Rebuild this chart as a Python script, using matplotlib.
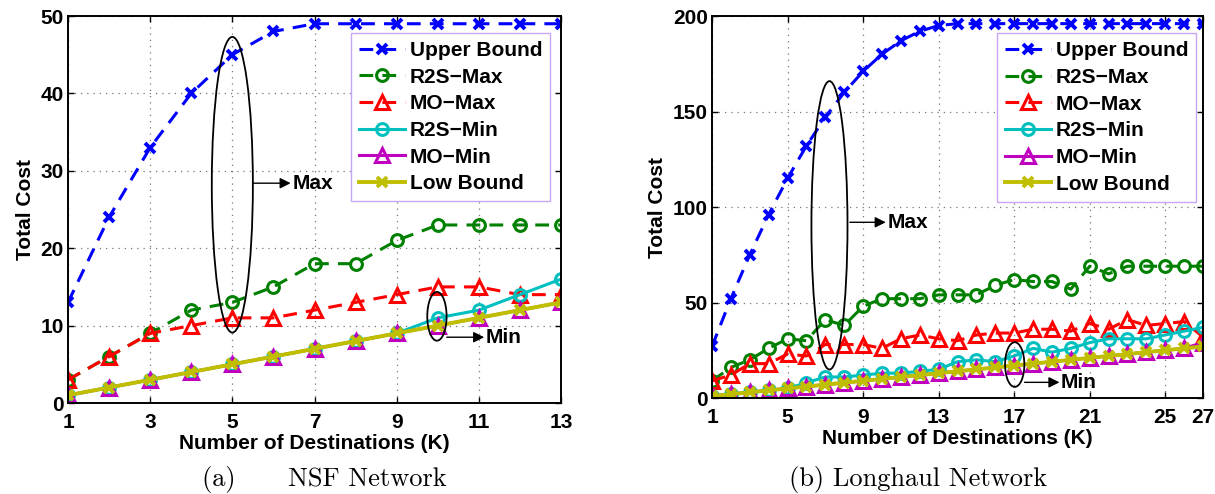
import numpy as np
import matplotlib
matplotlib.use("Agg")
import matplotlib.pyplot as plt
from matplotlib.patches import Ellipse

plt.rcParams['font.family'] = ['Liberation Sans', 'DejaVu Sans']
plt.rcParams['font.weight'] = 'bold'

# ---- data: (a) NSF network ----
k_nsf = list(range(1, 14))
upper_nsf = [13, 24, 33, 40, 45, 48, 49, 49, 49, 49, 49, 49, 49]
r2s_max_nsf = [3, 6, 9, 12, 13, 15, 18, 18, 21, 23, 23, 23, 23]
mo_max_nsf = [3, 6, 9, 10, 11, 11, 12, 13, 14, 15, 15, 14, 14]
r2s_min_nsf = [1, 2, 3, 4, 5, 6, 7, 8, 9, 11, 12, 14, 16]
mo_min_nsf = [1, 2, 3, 4, 5, 6, 7, 8, 9, 10, 11, 12, 13]
low_nsf = [1, 2, 3, 4, 5, 6, 7, 8, 9, 10, 11, 12, 13]

# ---- data: (b) Longhaul network ----
k_lh = list(range(1, 28))
upper_lh = [27, 52, 75, 96, 115, 132, 147, 160, 171, 180, 187, 192, 195,
            196, 196, 196, 196, 196, 196, 196, 196, 196, 196, 196, 196, 196, 196]
r2s_max_lh = [9, 16, 20, 26, 31, 30, 41, 38, 48, 52, 52, 52, 54, 54,
              54, 59, 62, 61, 61, 57, 69, 65, 69, 69, 69, 69, 69]
mo_max_lh = [9, 12, 18, 18, 23, 22, 28, 28, 28, 26, 31, 33, 31, 30,
             33, 34, 34, 36, 36, 35, 39, 36, 41, 38, 39, 40, 32]
r2s_min_lh = [1, 2, 3, 4, 5, 8, 11, 11, 12, 13, 13, 14, 15, 19,
              20, 19, 22, 26, 24, 26, 29, 31, 31, 31, 33, 35, 37]
mo_min_lh = [1, 2, 3, 4, 5, 6, 7, 8, 9, 10, 11, 12, 13, 14,
             15, 16, 17, 18, 19, 20, 21, 22, 23, 24, 25, 26, 29]
low_lh = list(range(1, 28))

labels = ["Upper Bound", "R2S\u2212Max", "MO\u2212Max", "R2S\u2212Min", "MO\u2212Min", "Low Bound"]

FS = 15


def draw(ax, k, series):
    up, r2max, momax, r2min, momin, low = series
    d = dict(linewidth=2.2, dashes=(4.5, 3))
    ax.plot(k, up, color='#0000ff', marker='x', ms=7, mew=2.8, label=labels[0], **d)
    ax.plot(k, r2max, color='#008000', marker='o', ms=8.5, mew=2.2, mfc='none', label=labels[1], **d)
    ax.plot(k, momax, color='#ff0000', marker='^', ms=9.5, mew=2.2, mfc='none', label=labels[2], **d)
    ax.plot(k, r2min, color='#00bfbf', marker='o', ms=8.5, mew=2.2, mfc='none', lw=2.2, label=labels[3])
    ax.plot(k, momin, color='#bf00bf', marker='^', ms=9.5, mew=2.2, mfc='none', lw=2.2, label=labels[4])
    ax.plot(k, low, color='#bfbf00', marker='x', ms=7, mew=2.8, lw=2.8, label=labels[5])


def style(ax, xticks, ylim, yticks, leg_anchor):
    ax.set_xlim(xticks[0], xticks[-1])
    ax.set_ylim(*ylim)
    ax.set_xticks(xticks)
    ax.set_yticks(yticks)
    ax.tick_params(direction='in', top=True, right=True, labelsize=15, length=4, width=1)
    ax.tick_params(axis='x', pad=7)
    ax.tick_params(axis='y', pad=3)
    for lbl in ax.get_xticklabels() + ax.get_yticklabels():
        lbl.set_fontweight('bold')
    ax.grid(True, color='#777777', linewidth=0.9, dashes=(1, 4))
    for s in ax.spines.values():
        s.set_linewidth(1.4)
    ax.set_xlabel("Number of Destinations (K)", fontsize=15, fontweight='bold', labelpad=1.5)
    ax.set_ylabel("Total Cost", fontsize=15, fontweight='bold', labelpad=4)
    leg = ax.legend(loc='upper right', bbox_to_anchor=leg_anchor, borderaxespad=0,
                    prop={'size': FS, 'weight': 'bold'}, handlelength=2.2, labelspacing=0.37,
                    borderpad=0.38, fancybox=False, framealpha=1, handletextpad=0.25)
    leg.get_frame().set_edgecolor('#c9a6f5')
    leg.get_frame().set_linewidth(1.0)


def mark(ax, cx, cy, w, h, ax0, ax1, ay, text):
    ax.add_patch(Ellipse((cx, cy), w, h, fill=False, edgecolor='black', linewidth=1.3, zorder=5))
    ax.annotate("", xy=(ax1, ay), xytext=(ax0, ay),
                arrowprops=dict(arrowstyle='-|>', color='black', lw=1.0, mutation_scale=16,
                                shrinkA=0, shrinkB=0), zorder=5)
    ax.text(ax1 + (ax1 - ax0) * 0.04, ay, text, fontsize=FS, fontweight='bold', va='center', ha='left')


fig = plt.figure(figsize=(12.15, 4.94), dpi=100)
ax1 = fig.add_axes([68 / 1215, 1 - 403 / 494, 493 / 1215, 387 / 494])
ax2 = fig.add_axes([712 / 1215, 1 - 398 / 494, 491 / 1215, 382 / 494])

draw(ax1, k_nsf, [upper_nsf, r2s_max_nsf, mo_max_nsf, r2s_min_nsf, mo_min_nsf, low_nsf])
style(ax1, [1, 3, 5, 7, 9, 11, 13], (0, 50), [0, 10, 20, 30, 40, 50], (0.978, 0.956))
mark(ax1, 5.0, 28.2, 1.0, 38.2, 5.5, 6.42, 28.4, "Max")
mark(ax1, 9.98, 11.2, 0.47, 6.3, 10.22, 11.13, 8.5, "Min")

draw(ax2, k_lh, [upper_lh, r2s_max_lh, mo_max_lh, r2s_min_lh, mo_min_lh, low_lh])
style(ax2, [1, 5, 9, 13, 17, 21, 25, 27], (0, 200), [0, 50, 100, 150, 200], (0.986, 0.955))
mark(ax2, 7.22, 90.4, 1.91, 151, 8.3, 10.2, 92.0, "Max")
mark(ax2, 17.03, 17.5, 1.02, 23.4, 17.55, 19.4, 8.2, "Min")

fig.text(324 / 1215, 1 - 479 / 494, "(a)      NSF Network", family=['cmr10', 'DejaVu Serif'],
         fontweight='normal', fontsize=19, ha='center', va='center')
fig.text(918 / 1215, 1 - 479 / 494, "(b) Longhaul Network", family=['cmr10', 'DejaVu Serif'],
         fontweight='normal', fontsize=19, ha='center', va='center')

fig.savefig("out.png", dpi=100)
